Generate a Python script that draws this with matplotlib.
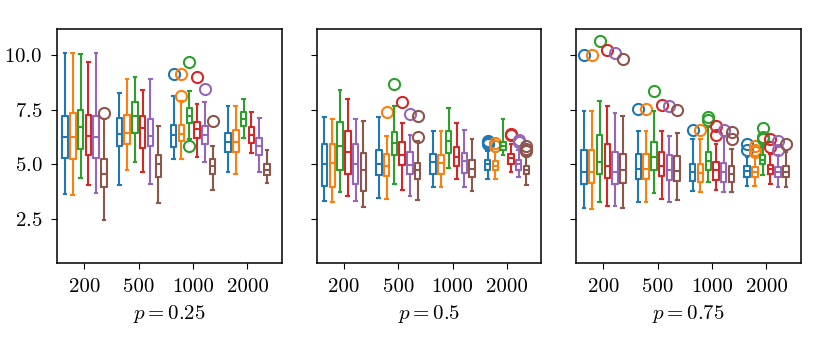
import numpy as np
import matplotlib.pyplot as plt

plt.rcParams['font.family'] = 'serif'
plt.rcParams['font.serif'] = ['cmr10']
plt.rcParams['mathtext.fontset'] = 'cm'
plt.rcParams['axes.formatter.use_mathtext'] = True
plt.rcParams['font.size'] = 15
plt.rcParams['axes.linewidth'] = 1.1
plt.rcParams['xtick.major.size'] = 4.2
plt.rcParams['ytick.major.size'] = 4.2
plt.rcParams['xtick.major.pad'] = 6.5
plt.rcParams['ytick.major.pad'] = 6.5

# ---- data ----
sizes = ['200', '500', '1000', '2000']
panel_labels = ['$p = 0.25$', '$p = 0.5$', '$p = 0.75$']
colors = ['#1f77b4', '#ff7f0e', '#2ca02c', '#d62728', '#9467bd', '#8c564b']

# per group (200, 500, 1000, 2000), per method: (whislo, q1, med, q3, whishi)
stats_p25 = [
    [(3.65, 5.29, 6.24, 7.23, 10.08), (3.59, 5.26, 6.24, 7.35, 10.08), (4.39, 5.71, 6.70, 7.50, 10.03),
     (4.05, 5.41, 6.29, 7.26, 9.68), (3.71, 5.29, 6.24, 7.23, 10.08), (2.45, 3.97, 4.55, 5.23, 7.06)],
    [(4.05, 5.86, 6.39, 7.12, 8.25), (4.73, 5.94, 6.44, 7.27, 8.89), (5.11, 6.44, 7.20, 7.83, 8.97),
     (4.64, 5.76, 6.67, 7.23, 8.41), (4.12, 5.83, 6.29, 7.08, 8.89), (3.24, 4.42, 5.00, 5.45, 6.77)],
    [(5.23, 5.79, 6.32, 6.82, 8.14), (5.23, 6.06, 6.39, 6.82, 7.90), (6.14, 6.88, 7.23, 7.58, 8.36),
     (5.33, 6.21, 6.62, 6.92, 7.76), (5.11, 5.94, 6.32, 6.73, 7.86), (3.85, 4.58, 4.92, 5.23, 5.86)],
    [(4.65, 5.59, 6.02, 6.42, 7.64), (4.58, 5.59, 6.02, 6.58, 7.64), (6.21, 6.73, 7.08, 7.38, 7.98),
     (5.52, 5.97, 6.35, 6.70, 7.38), (4.65, 5.41, 5.82, 6.21, 7.11), (4.15, 4.50, 4.76, 5.00, 5.67)],
]
fliers_p25 = [
    [[], [], [], [], [], [7.33]],
    [[], [], [], [], [], []],
    [[9.12], [9.12, 8.14], [9.68, 5.82], [8.97], [8.44], [7.00]],
    [[], [], [], [], [], []],
]

stats_p50 = [
    [(3.33, 4.02, 5.00, 5.91, 7.18), (3.29, 3.97, 5.06, 5.91, 7.06), (3.74, 4.77, 5.82, 6.92, 8.41),
     (3.56, 4.55, 5.56, 6.52, 7.98), (3.32, 4.09, 5.03, 5.91, 7.08), (3.05, 3.77, 4.73, 5.52, 7.00)],
    [(3.48, 4.53, 5.00, 5.64, 7.18), (3.44, 4.47, 4.95, 5.48, 6.29), (4.12, 5.45, 5.97, 6.47, 7.64),
     (3.82, 4.98, 5.44, 6.02, 6.89), (3.56, 4.58, 4.98, 5.56, 6.36), (3.36, 4.35, 4.73, 5.06, 6.06)],
    [(3.97, 4.58, 5.11, 5.48, 6.52), (3.97, 4.58, 5.06, 5.45, 6.52), (4.83, 5.52, 6.05, 6.52, 7.56),
     (4.32, 4.95, 5.36, 5.79, 6.88), (3.97, 4.62, 5.14, 5.52, 6.58), (3.79, 4.42, 4.80, 5.21, 6.14)],
    [(4.35, 4.77, 5.00, 5.21, 5.60), (4.35, 4.73, 4.95, 5.15, 5.56), (5.41, 5.64, 5.86, 6.02, 7.08),
     (4.65, 5.03, 5.29, 5.48, 5.94), (4.45, 4.77, 5.03, 5.21, 5.64), (4.08, 4.58, 4.76, 4.92, 5.36)],
]
fliers_p50 = [
    [[], [], [], [], [], []],
    [[], [7.38], [8.67], [7.86], [7.30], [7.23, 6.24]],
    [[], [], [], [], [], []],
    [[6.05, 5.98, 5.91], [5.97, 5.86], [], [6.39, 6.32], [6.12, 6.02], [5.86, 5.71, 5.61]],
]

stats_p75 = [
    [(3.02, 4.12, 4.68, 5.64, 7.45), (2.98, 4.15, 4.65, 5.64, 7.42), (3.29, 4.58, 5.11, 6.36, 7.91),
     (3.11, 4.39, 4.91, 5.91, 7.64), (3.09, 4.12, 4.68, 5.59, 7.35), (3.02, 4.17, 4.73, 5.48, 7.20)],
    [(3.29, 4.32, 4.80, 5.48, 6.52), (3.29, 4.32, 4.80, 5.48, 6.52), (3.70, 4.77, 5.33, 6.02, 7.45),
     (3.41, 4.47, 4.95, 5.59, 6.52), (3.29, 4.30, 4.76, 5.45, 6.29), (3.36, 4.27, 4.70, 5.38, 6.44)],
    [(3.77, 4.24, 4.65, 5.03, 6.17), (3.74, 4.20, 4.61, 5.03, 6.17), (4.20, 4.73, 5.18, 5.56, 6.70),
     (3.86, 4.30, 4.76, 5.11, 5.91), (3.74, 4.20, 4.65, 5.06, 6.24), (3.74, 4.20, 4.58, 4.95, 5.71)],
    [(4.02, 4.45, 4.70, 4.92, 5.33), (4.02, 4.42, 4.65, 4.88, 5.33), (4.53, 5.00, 5.21, 5.41, 5.79),
     (4.12, 4.58, 4.80, 4.98, 5.48), (3.97, 4.42, 4.65, 4.88, 5.41), (3.97, 4.42, 4.68, 4.91, 5.56)],
]
fliers_p75 = [
    [[10.00], [10.00], [10.64], [10.21], [10.08], [9.80]],
    [[7.53], [7.53], [8.33], [7.71], [7.65], [7.48]],
    [[6.55], [6.55], [7.15, 7.03], [6.77, 6.32], [6.58], [6.47, 6.17]],
    [[5.94, 5.68], [5.86, 5.64, 5.56], [6.67, 6.24, 6.17], [6.17, 5.79], [6.06, 5.64], [5.91]],
]

all_stats = [stats_p25, stats_p50, stats_p75]
all_fliers = [fliers_p25, fliers_p50, fliers_p75]

# ---- figure ----
fig, axes = plt.subplots(1, 3, sharey=True, figsize=(8.3, 3.46), dpi=100)
fig.subplots_adjust(left=0.069, right=0.9647, bottom=0.239, top=0.915, wspace=0.156)

step = 0.143
offsets = (np.arange(6) - 2.5) * step

for ax, stats, fliers, lab in zip(axes, all_stats, all_fliers, panel_labels):
    for j, c in enumerate(colors):
        bxs = []
        for g in range(len(sizes)):
            lo, q1, med, q3, hi = stats[g][j]
            bxs.append(dict(whislo=lo, q1=q1, med=med, q3=q3, whishi=hi,
                            fliers=np.array(fliers[g][j])))
        pos = np.arange(len(sizes)) + offsets[j]
        ax.bxp(bxs, positions=pos, widths=0.1, manage_ticks=False,
               boxprops=dict(color=c, linewidth=1.5),
               medianprops=dict(color=c, linewidth=1.5),
               whiskerprops=dict(color=c, linewidth=1.5),
               capprops=dict(color=c, linewidth=1.5),
               flierprops=dict(marker='o', markerfacecolor='none',
                               markeredgecolor=c, markersize=8, markeredgewidth=1.5))
    ax.set_xticks(np.arange(len(sizes)))
    ax.set_xticklabels(sizes)
    ax.set_xlim(-0.5, 3.63)
    ax.set_xlabel(lab, labelpad=5)

axes[0].set_ylim(0.5, 11.15)
axes[0].set_yticks([2.5, 5.0, 7.5, 10.0])

plt.savefig('out.png')
